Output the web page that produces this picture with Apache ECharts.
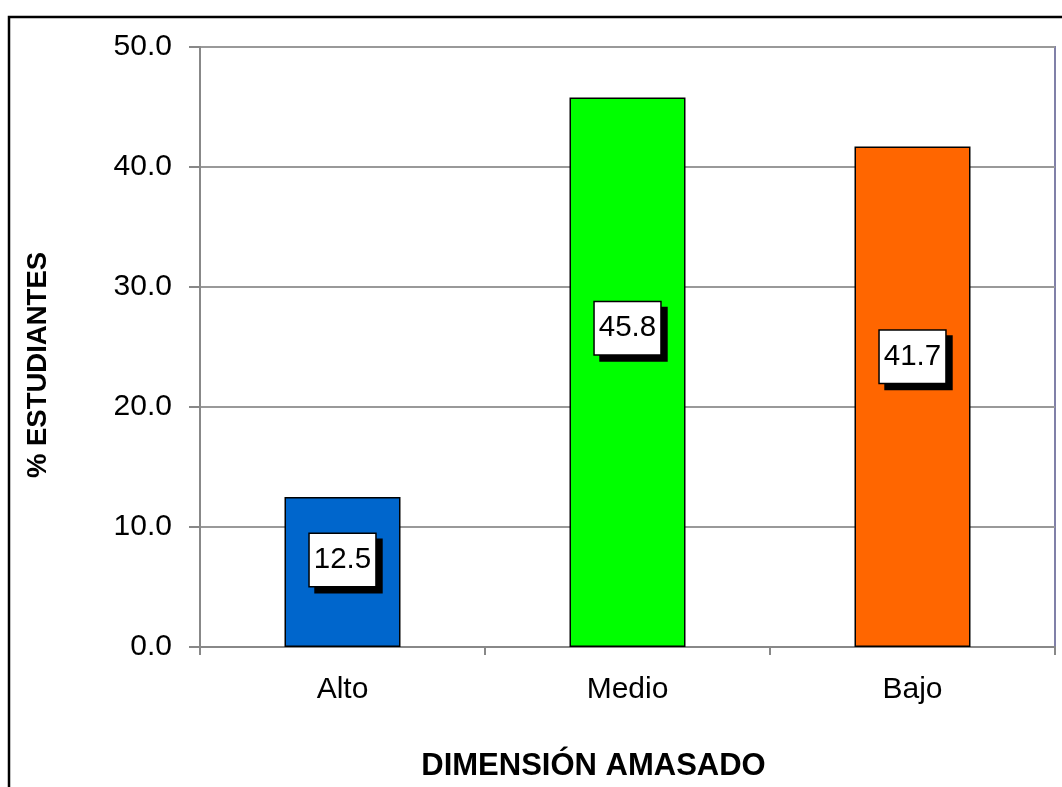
<!DOCTYPE html>
<html>
<head>
<meta charset="utf-8">
<script src="https://cdn.jsdelivr.net/npm/echarts@6/dist/echarts.min.js"></script>
<style>
  html, body { margin: 0; padding: 0; background: #ffffff; }
  #chart { width: 1062px; height: 787px; }
</style>
</head>
<body>
<div id="chart"></div>
<script>
// Niveles de la dimensión y porcentaje de estudiantes en cada uno
const categories = ['Alto', 'Medio', 'Bajo'];
const values = [12.5, 45.8, 41.7];
const barColors = ['#0066CC', '#00FF00', '#FF6600'];
const yTicks = { min: 0, max: 50, interval: 10 };

const FONT = '"Liberation Sans", Arial, sans-serif';

const chart = echarts.init(document.getElementById('chart'), null, { renderer: 'canvas' });

chart.setOption({
  animation: false,
  backgroundColor: '#ffffff',
  graphic: [{
    type: 'rect',
    shape: { x: 9, y: 17, width: 1200, height: 1000 },
    style: { fill: 'none', stroke: '#000000', lineWidth: 2.5 },
    z: 100
  }],
  grid: {
    left: 200, top: 47, width: 855, height: 601,
    show: true, borderColor: '#8080a8', borderWidth: 2,
    backgroundColor: 'transparent'
  },
  xAxis: {
    type: 'category',
    data: categories,
    name: 'DIMENSIÓN AMASADO',
    nameLocation: 'middle',
    nameGap: 104,
    nameTextStyle: {
      fontFamily: FONT, fontSize: 31, fontWeight: 'bold', color: '#000',
      padding: [0, 68, 0, 0]
    },
    axisLine: { lineStyle: { color: '#888888', width: 2 } },
    axisTick: { show: true, length: 8, lineStyle: { color: '#888888', width: 2 } },
    axisLabel: { fontFamily: FONT, fontSize: 30, color: '#000', margin: 28 }
  },
  yAxis: {
    type: 'value',
    min: yTicks.min, max: yTicks.max, interval: yTicks.interval,
    name: '% ESTUDIANTES',
    nameLocation: 'middle',
    nameGap: 148,
    nameRotate: 90,
    nameTextStyle: {
      fontFamily: FONT, fontSize: 27.5, fontWeight: 'bold', color: '#000',
      padding: [0, 36, 0, 0]
    },
    axisLine: { show: true, lineStyle: { color: '#888888', width: 2 } },
    axisTick: { show: true, length: 11, lineStyle: { color: '#888888', width: 2 } },
    splitLine: { lineStyle: { color: '#999999', width: 2 } },
    axisLabel: {
      fontFamily: FONT, fontSize: 30, color: '#000', margin: 28,
      formatter: v => v.toFixed(1)
    }
  },
  series: [{
    type: 'bar',
    barWidth: '40.7%',
    data: values.map((v, i) => ({
      value: v,
      itemStyle: { color: barColors[i], borderColor: '#000000', borderWidth: 1.5 }
    })),
    label: {
      show: true,
      position: ['50%', '42%'],
      align: 'center',
      verticalAlign: 'middle',
      formatter: p => p.value.toFixed(1),
      fontFamily: FONT,
      fontSize: 29.5,
      color: '#000',
      lineHeight: 32,
      backgroundColor: '#ffffff',
      borderColor: '#000000',
      borderWidth: 1.5,
      padding: [10, 4, 10, 4],
      shadowColor: '#000000',
      shadowBlur: 0,
      shadowOffsetX: 6,
      shadowOffsetY: 6
    }
  }]
});
</script>
</body>
</html>
